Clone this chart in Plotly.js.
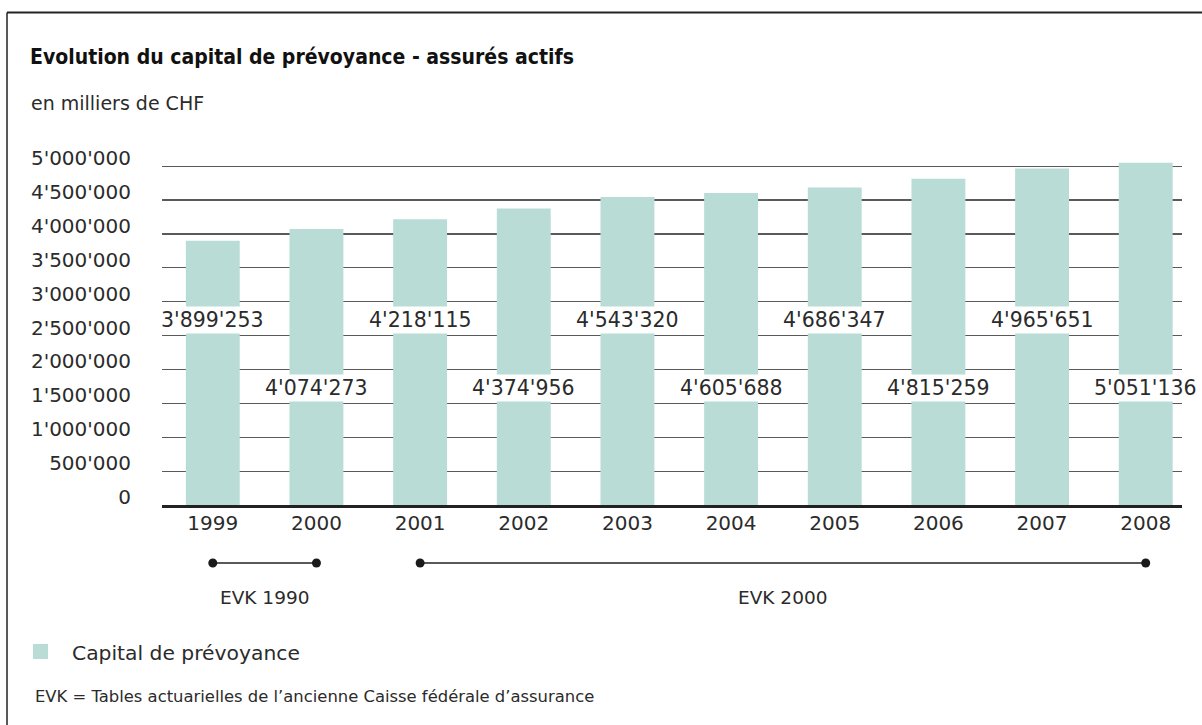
<!DOCTYPE html>
<html><head><meta charset="utf-8">
<script src="https://cdn.plot.ly/plotly-3.0.1.min.js"></script>
<style>html,body{margin:0;padding:0;background:#fff}#chart{width:1202px;height:725px}</style>
</head><body><div id="chart"></div>
<script>
// ---- data ----
const years = ['1999','2000','2001','2002','2003','2004','2005','2006','2007','2008'];
const capital = [3899253, 4074273, 4218115, 4374956, 4543320, 4605688, 4686347, 4815259, 4965651, 5051136];
const yTickVals = [0, 500000, 1000000, 1500000, 2000000, 2500000, 3000000, 3500000, 4000000, 4500000, 5000000];
const evkLabels = ['EVK 1990', 'EVK 2000'];
const evkStart = ['1999', '2001'];
const evkEnd = ['2000', '2008'];
const titleText = 'Evolution du capital de prévoyance - assurés actifs';
const subtitleText = 'en milliers de CHF';
const seriesName = 'Capital de prévoyance';
const footnoteText = 'EVK = Tables actuarielles de l’ancienne Caisse fédérale d’assurance';

// ---- layout helpers ----
const W = 1202, H = 725, M = {l:162, r:20, t:156, b:220, autoexpand: false};
const PW = W - M.l - M.r, PH = H - M.t - M.b;
const px = p => (p - M.l) / PW;
const py = p => (H - M.b - p) / PH;
const FONT = 'DejaVu Sans, Liberation Sans, Arial, sans-serif';
const TXT = '#2b2b2b';
const BAR = '#b9ddd6';
function fmt(v){ return String(v).replace(/\B(?=(\d{3})+(?!\d))/g, "'"); }

const traces = [{
  type: 'bar', x: years, y: capital, name: seriesName,
  marker: {color: BAR}, width: 0.52, hoverinfo: 'none', showlegend: false
}];

const annotations = [];
const shapes = [];
capital.forEach((v, i) => {
  annotations.push({
    x: i, xref: 'x', y: py(i % 2 === 0 ? 319.5 : 387.5), yref: 'paper',
    text: fmt(v), showarrow: false, bgcolor: '#ffffff', borderpad: 1,
    font: {family: FONT, size: 20.5, color: TXT}, xanchor: 'center', yanchor: 'middle'
  });
});
const evkY = py(563);
evkLabels.forEach((lab, k) => {
  const a = years.indexOf(evkStart[k]), b = years.indexOf(evkEnd[k]);
  shapes.push({type: 'line', xref: 'x', yref: 'paper', x0: a, x1: b, y0: evkY, y1: evkY,
    line: {color: '#222', width: 1.5}});
  [a, b].forEach(c => shapes.push({type: 'circle', xref: 'x', yref: 'paper',
    xsizemode: 'pixel', ysizemode: 'pixel', xanchor: c, yanchor: evkY,
    x0: -4.5, x1: 4.5, y0: -4.5, y1: 4.5, fillcolor: '#1a1a1a', line: {width: 0}}));
  annotations.push({
    x: (a + b) / 2, xref: 'x', y: py(597), yref: 'paper', text: lab, showarrow: false,
    font: {family: FONT, size: 18.5, color: TXT}, xanchor: 'center', yanchor: 'middle'
  });
});
annotations.push({
  x: px(29), xref: 'paper', y: py(103), yref: 'paper', text: subtitleText, showarrow: false,
  font: {family: FONT, size: 19, color: TXT}, xanchor: 'left', yanchor: 'middle'
});
annotations.push({
  x: px(33), xref: 'paper', y: py(696), yref: 'paper', text: footnoteText, showarrow: false,
  font: {family: FONT, size: 16.4, color: TXT}, xanchor: 'left', yanchor: 'middle'
});
// legend (manual swatch + label)
shapes.push({type: 'rect', xref: 'paper', yref: 'paper', x0: px(33), x1: px(48), y0: py(644), y1: py(659),
  fillcolor: BAR, line: {width: 0}});
annotations.push({
  x: px(70), xref: 'paper', y: py(653), yref: 'paper', text: seriesName, showarrow: false,
  font: {family: FONT, size: 20.3, color: TXT}, xanchor: 'left', yanchor: 'middle'
});
// frame
shapes.push({type: 'line', xref: 'paper', yref: 'paper', x0: px(7), x1: px(1210), y0: py(12.5), y1: py(12.5), line: {color: '#222', width: 1.8}});
shapes.push({type: 'line', xref: 'paper', yref: 'paper', x0: px(7), x1: px(7), y0: py(12.5), y1: py(730), line: {color: '#222', width: 1.5}});

const layout = {
  width: W, height: H, margin: M, paper_bgcolor: '#fff', plot_bgcolor: '#fff',
  separators: ".'",
  title: {
    text: '<b>' + titleText + '</b>', xref: 'container', x: 30 / W, xanchor: 'left',
    yref: 'container', y: 1 - 57 / H, yanchor: 'middle',
    font: {family: 'DejaVu Sans Condensed, DejaVu Sans, sans-serif', size: 21, color: '#111'}
  },
  xaxis: {
    type: 'category', categoryorder: 'array', categoryarray: years,
    range: [-0.49, 9.35], showgrid: false, zeroline: false,
    showline: true, linecolor: '#222', linewidth: 3, ticks: '', ticklabelstandoff: -2,
    tickfont: {family: FONT, size: 20, color: TXT}, fixedrange: true
  },
  yaxis: {
    range: [0, 5150000], tickvals: yTickVals, tickformat: ',d',
    showgrid: true, gridcolor: '#5a5a5a', gridwidth: 1.2, zeroline: false, showline: false,
    ticks: '', ticklabelstandoff: 30, ticklabelshift: -8,
    tickfont: {family: FONT, size: 20, color: TXT}, fixedrange: true
  },
  showlegend: false,
  annotations: annotations, shapes: shapes
};

Plotly.newPlot('chart', traces, layout, {staticPlot: true, displayModeBar: false});
</script>
</body></html>
